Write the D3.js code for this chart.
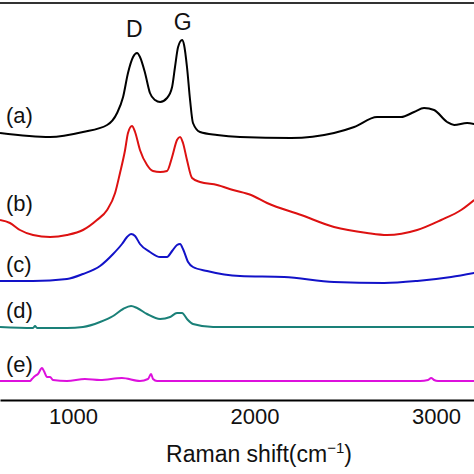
<!DOCTYPE html>
<html>
<head>
<meta charset="utf-8">
<script src="https://cdn.jsdelivr.net/npm/d3@7"></script>
<style>
  html, body { margin: 0; padding: 0; background: #fff; }
  svg { display: block; }
  text { font-family: "Liberation Sans", Arial, sans-serif; fill: #111; }
</style>
</head>
<body>
<svg id="chart" width="474" height="474"></svg>
<script>
// ---- data (Raman shift in cm^-1, intensity in arbitrary units incl. vertical offsets) ----
const xTicks = [1000, 2000, 3000];
const seriesLabels = ["(a)", "(b)", "(c)", "(d)", "(e)"];
const seriesColors = ["#000000", "#dd1111", "#1212c8", "#1a8078", "#dd10dd"];

const shiftA = [598, 874, 1055, 1188, 1243, 1276, 1303, 1331, 1353, 1369, 1397, 1424, 1452, 1480, 1518, 1546, 1562, 1579, 1601, 1612, 1628, 1645, 1661, 1700, 1794, 1920, 2201, 2438, 2549, 2675, 2807, 2879, 2934, 2989, 3061, 3100, 3171, 3210];
const intensityA = [267, 263, 268, 275, 287, 303, 327, 343, 347, 343, 327, 307, 300, 298, 302, 313, 333, 353, 360, 355, 333, 300, 277, 268, 265, 263, 262, 267, 273, 283, 283, 288, 292, 290, 278, 275, 277, 276];

const shiftB = [598, 653, 708, 780, 874, 967, 1055, 1132, 1188, 1232, 1259, 1287, 1303, 1325, 1342, 1369, 1408, 1441, 1480, 1518, 1546, 1573, 1590, 1606, 1628, 1656, 1700, 1794, 1882, 1981, 2069, 2257, 2438, 2620, 2730, 2896, 3028, 3138, 3210];
const intensityB = [180, 177, 170, 165, 163, 165, 170, 180, 190, 207, 227, 250, 267, 274, 268, 250, 235, 229, 228, 229, 243, 260, 263, 257, 240, 222, 218, 215, 210, 205, 197, 185, 173, 167, 165, 170, 180, 190, 200];

const shiftC = [598, 780, 967, 1055, 1149, 1221, 1270, 1298, 1320, 1342, 1369, 1424, 1480, 1518, 1546, 1573, 1590, 1606, 1634, 1661, 1739, 1920, 2163, 2438, 2714, 2896, 3083, 3210];
const intensityC = [119, 119, 121, 126, 134, 146, 156, 163, 166, 164, 156, 148, 143, 143, 149, 155, 156, 151, 138, 133, 129, 124, 123, 118, 117, 119, 123, 127];

const shiftD = [598, 780, 791, 802, 967, 1055, 1149, 1221, 1276, 1320, 1353, 1408, 1480, 1535, 1573, 1601, 1628, 1661, 1772, 1920, 2500, 3210];
const intensityD = [73, 72, 74, 72, 72, 73, 78, 84, 91, 94, 92, 86, 81, 83, 87, 87, 81, 76, 73, 73, 73, 73];

const shiftE = [598, 763, 774, 791, 807, 829, 840, 857, 874, 890, 967, 1066, 1149, 1270, 1369, 1413, 1430, 1441, 1463, 2912, 2956, 2973, 2989, 3011, 3210];
const intensityE = [19, 19, 21, 24, 26, 32, 29, 23, 23, 20, 19, 21, 20, 22, 19, 21, 26, 21, 19, 19, 20, 22, 20, 19, 19];

const peakLabels = ["D", "G"];
const peakShifts = [1338, 1605];
const peakLabelLevels = [363, 370];
const labelLevels = [277, 189, 128, 82, 28];

// ---- drawing ----
const W = 474, H = 474;
const svg = d3.select("#chart");
const x = d3.scaleLinear().domain([598, 3209]).range([0, W]);
const y = d3.scaleLinear().domain([0, 397]).range([400, 3]);

const shifts = [shiftA, shiftB, shiftC, shiftD, shiftE];
const intensities = [intensityA, intensityB, intensityC, intensityD, intensityE];

const line = d3.line()
  .x(d => x(d[0]))
  .y(d => y(d[1]))
  .curve(d3.curveMonotoneX);

// top frame line
svg.append("line")
  .attr("x1", 0).attr("x2", W)
  .attr("y1", y(397)).attr("y2", y(397))
  .attr("stroke", "#333").attr("stroke-width", 2);

shifts.forEach((s, i) => {
  const pts = s.map((v, j) => [v, intensities[i][j]]);
  svg.append("path")
    .datum(pts)
    .attr("fill", "none")
    .attr("stroke", seriesColors[i])
    .attr("stroke-width", 2)
    .attr("stroke-linejoin", "round")
    .attr("d", line);
});

// series labels
seriesLabels.forEach((t, i) => {
  svg.append("text")
    .attr("x", 6)
    .attr("y", y(labelLevels[i]))
    .attr("font-size", 22)
    .text(t);
});

// peak labels
peakLabels.forEach((t, i) => {
  svg.append("text")
    .attr("x", x(peakShifts[i]))
    .attr("y", y(peakLabelLevels[i]))
    .attr("text-anchor", "middle")
    .attr("font-size", 23)
    .text(t);
});

// x axis
const axis = d3.axisBottom(x).tickValues(xTicks).tickSize(0).tickPadding(8).tickFormat(d3.format("d"));
const gx = svg.append("g").attr("transform", `translate(0,${y(0)})`).call(axis);
gx.select(".domain").attr("stroke", "#000").attr("stroke-width", 2);
gx.selectAll("text").attr("font-size", 22).attr("fill", "#111")
  .style("font-family", '"Liberation Sans", Arial, sans-serif');

// axis title
const title = svg.append("text")
  .attr("x", 259).attr("y", 462)
  .attr("text-anchor", "middle")
  .attr("font-size", 23);
title.append("tspan").text("Raman shift(cm");
title.append("tspan").attr("dy", -9).attr("font-size", 15).text("\u22121");
title.append("tspan").attr("dy", 9).text(")");
</script>
</body>
</html>
